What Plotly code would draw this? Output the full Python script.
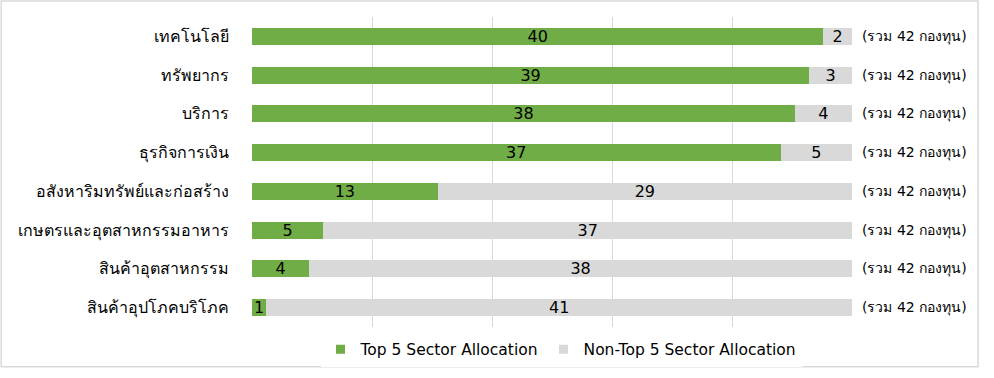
import plotly.graph_objects as go

categories = ["เทคโนโลยี", "ทรัพยากร", "บริการ", "ธุรกิจการเงิน",
              "อสังหาริมทรัพย์และก่อสร้าง", "เกษตรและอุตสาหกรรมอาหาร",
              "สินค้าอุตสาหกรรม", "สินค้าอุปโภคบริโภค"]
top5 = [40, 39, 38, 37, 13, 5, 4, 1]
non_top5 = [2, 3, 4, 5, 29, 37, 38, 41]
series_names = ["Top 5 Sector Allocation", "Non-Top 5 Sector Allocation"]
totals = [a + b for a, b in zip(top5, non_top5)]

FONT = "DejaVu Sans, Noto Sans, sans-serif"
GREEN = "#70AD47"
GRAY = "#D9D9D9"

fig = go.Figure()
for name, vals, col in [(series_names[0], top5, GREEN), (series_names[1], non_top5, GRAY)]:
    fig.add_trace(go.Bar(
        y=categories, x=vals, name=name, orientation="h",
        marker=dict(color=col, line=dict(width=0)),
        text=[str(v) for v in vals], textposition="inside",
        insidetextanchor="middle", constraintext="none", textangle=0,
        textfont=dict(family=FONT, size=16, color="#000000"),
        hoverinfo="x+y", showlegend=False,
    ))
    # legend entry with small square marker
    fig.add_trace(go.Scatter(
        x=[None], y=[None], mode="markers", name=name,
        marker=dict(symbol="square", size=9, color=col),
        hoverinfo="skip", showlegend=True,
    ))

for cat, tot in zip(categories, totals):
    fig.add_annotation(
        x=1.0, xref="paper", y=cat, yref="y",
        text=f"(รวม {tot} กองทุน)", showarrow=False,
        xanchor="left", xshift=8,
        font=dict(family=FONT, size=14, color="#000000"),
    )

# chart border
fig.add_shape(type="rect", xref="paper", yref="paper",
              x0=-0.418, x1=1.21, y0=-0.1286, y1=1.0514,
              line=dict(color="#D9D9D9", width=1.5), layer="below")

xmax = max(totals)
fig.update_layout(
    barmode="stack",
    bargap=0.56,
    width=994, height=378,
    margin=dict(l=252, r=142, t=17, b=50),
    paper_bgcolor="white", plot_bgcolor="white",
    font=dict(family=FONT, size=14, color="#000000"),
    xaxis=dict(range=[0, xmax], dtick=xmax / 5, tick0=0,
               showticklabels=False, showgrid=True, gridcolor="#D9D9D9",
               gridwidth=1, zeroline=False, showline=False, fixedrange=True),
    yaxis=dict(autorange="reversed", showgrid=False, showline=False,
               ticks="", ticklabelstandoff=22, type="category",
               tickfont=dict(family=FONT, size=16, color="#000000")),
    legend=dict(orientation="h", x=0.515, xanchor="center", y=-0.07, yanchor="middle",
                font=dict(family=FONT, size=15.5, color="#000000"),
                itemwidth=30, traceorder="normal", tracegroupgap=0),
    showlegend=True,
)

fig.write_html("out.html", config={"displayModeBar": False},
               post_script="document.body.style.margin='0';document.body.style.overflow='hidden';")
